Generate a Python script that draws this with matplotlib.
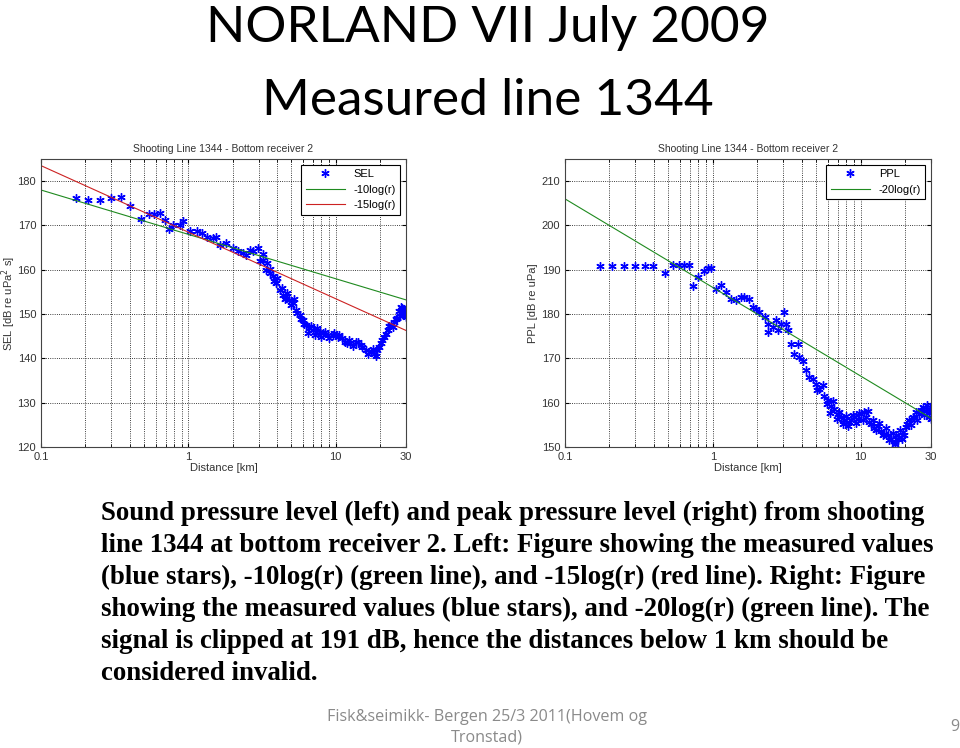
import matplotlib
matplotlib.use('Agg')
import matplotlib.pyplot as plt
from matplotlib.ticker import FixedLocator, NullFormatter, LogLocator

# data
sel_r = [0.174, 0.209, 0.25, 0.30, 0.35, 0.40, 0.48, 0.54, 0.585, 0.64, 0.695, 0.74, 0.79, 0.88, 0.925,
         1.03, 1.14, 1.23, 1.33, 1.47, 1.55, 1.64, 1.81, 2.01, 2.18, 2.35, 2.48, 2.61, 2.75, 2.97,
         3.05, 3.21, 3.38, 3.56, 3.75, 3.95, 4.16, 4.38, 4.6, 4.85, 5.11, 5.39, 5.68, 5.98, 6.3,
         6.64, 7.0, 7.37, 7.77, 8.18, 8.83, 9.54, 10.3, 11.1, 12.0, 12.6, 13.7, 14.8, 16.0, 17.3,
         18.2, 19.2, 20.2, 21.3, 22.5, 23.7, 25.0, 26.2, 26.9, 27.6, 28.3, 29.1,
         3.2, 3.4, 3.6, 3.8, 4.0, 4.3, 4.5, 4.7, 5.0, 5.2, 5.5, 5.8, 6.1, 6.5, 6.8, 7.2, 7.5, 8.0,
         8.5, 9.0, 9.8, 10.6, 11.5, 12.3, 13.2, 14.2, 15.2, 16.5, 17.8, 18.7, 19.7, 20.7, 21.8,
         23.0, 24.3, 25.6, 27.2, 28.0, 28.7, 29.5, 29.8]
sel_db = [176.2, 175.8, 175.8, 176.2, 176.5, 174.3, 171.5, 172.5, 172.5, 172.8, 171.2, 169.2, 170.2, 170.2, 171.0,
          168.7, 168.7, 168.3, 167.5, 167.2, 167.5, 165.7, 166.0, 164.9, 164.2, 163.8, 163.4, 164.5, 164.2, 165.0,
          161.9, 162.3, 160.0, 159.2, 158.5, 157.0, 155.5, 154.3, 154.0, 153.2, 152.5, 151.0, 149.8, 148.7, 147.5,
          146.8, 146.4, 146.0, 146.0, 145.7, 145.3, 145.3, 144.9, 144.5, 143.4, 143.4, 143.8, 143.0, 141.9, 141.5,
          141.1, 141.9, 143.4, 144.9, 146.4, 147.5, 148.3, 149.1, 150.6, 151.7, 150.6, 149.8,
          163.5, 161.5, 160.2, 157.5, 158.2, 155.8, 153.3, 154.8, 152.0, 153.5, 150.2, 148.8, 147.8, 145.8, 147.2,
          145.3, 146.8, 144.8, 146.0, 144.5, 145.8, 145.2, 143.8, 144.2, 142.8, 143.6, 142.5, 140.9, 142.2, 140.6,
          142.5, 144.2, 145.6, 147.2, 147.0, 148.9, 149.5, 151.4, 150.2, 150.8, 149.4]

ppl_r = [0.172, 0.208, 0.25, 0.296, 0.348, 0.397, 0.478, 0.536, 0.589, 0.636, 0.695, 0.74, 0.79, 0.878, 0.925,
         0.974, 1.05, 1.14, 1.23, 1.33, 1.44, 1.56, 1.64, 1.77, 1.87, 1.97, 2.07, 2.24, 2.36, 2.36,
         2.55, 2.68, 2.75, 2.90, 3.02, 3.14, 3.22, 3.39, 3.57, 3.76, 3.86, 4.06, 4.28, 4.51, 4.75,
         5.0, 5.27, 5.55, 5.7, 6.0, 6.32, 6.66, 7.02, 7.39, 7.78, 8.2, 8.64, 9.1, 9.6, 10.1,
         10.6, 11.2, 11.8, 12.4, 13.1, 13.8, 14.5, 15.3, 16.1, 17.0, 17.4, 18.3, 19.3, 20.3, 21.4,
         22.6, 23.8, 25.0, 26.4, 27.8, 29.0, 29.6,
         5.1, 5.9, 6.2, 6.5, 6.9, 7.2, 7.6, 8.0, 8.4, 8.9, 9.3, 9.8, 10.4, 10.9, 11.5, 12.1, 12.8,
         13.4, 14.1, 14.8, 15.6, 16.5, 17.2, 17.8, 18.6, 19.0, 19.8, 20.8, 21.9, 23.1, 24.3, 25.6,
         27.0, 28.4, 29.3, 29.8]
ppl_db = [190.8, 190.8, 190.8, 190.8, 190.8, 190.8, 189.2, 191.0, 191.0, 191.0, 191.0, 186.3, 188.3, 189.7, 190.4,
          190.4, 185.7, 186.5, 185.0, 183.4, 183.1, 183.8, 183.8, 183.4, 181.6, 181.2, 180.4, 179.3, 177.8, 175.9,
          177.1, 178.6, 176.3, 177.8, 180.4, 177.8, 176.3, 173.3, 171.0, 173.3, 170.3, 169.5, 167.3, 165.8, 165.4,
          164.2, 163.1, 163.9, 161.6, 160.5, 159.3, 158.6, 157.5, 156.7, 156.0, 154.8, 156.0, 156.7, 156.3, 157.5,
          157.8, 158.2, 155.2, 154.4, 154.8, 153.7, 153.0, 152.6, 151.9, 151.1, 152.6, 152.3, 153.4, 154.5, 156.0,
          156.7, 157.8, 157.5, 159.0, 158.2, 156.7, 158.6,
          162.8, 159.8, 157.6, 160.3, 156.3, 157.9, 155.2, 157.0, 155.6, 157.2, 155.4, 157.6, 156.2, 156.8, 155.6,
          156.2, 153.8, 155.4, 152.6, 154.2, 151.6, 153.2, 150.6, 151.8, 153.8, 151.8, 152.6, 155.2, 155.0, 156.6,
          156.2, 158.4, 157.2, 159.4, 157.6, 156.4]

# reference lines (end points)
line_r = [0.1, 30]
sel_10log = [178.0, 153.2]
sel_15log = [183.5, 146.3]
ppl_20log = [206.0, 156.5]

x_ticks = [0.1, 1, 10, 30]
x_labels = ['0.1', '1', '10', '30']

plt.rcParams['font.family'] = ['Liberation Sans', 'DejaVu Sans']

fig = plt.figure(figsize=(9.6, 7.48), dpi=100)
fig.patch.set_facecolor('white')

W, H = 960.0, 748.0
star = (6, 2, 0)


def setup(ax, ylim, yticks, ylabel):
    ax.set_xscale('log')
    ax.set_xlim(0.1, 30)
    ax.set_ylim(*ylim)
    ax.xaxis.set_major_locator(FixedLocator(x_ticks))
    ax.set_xticklabels(x_labels)
    ax.xaxis.set_minor_locator(LogLocator(base=10, subs=range(2, 10)))
    ax.xaxis.set_minor_formatter(NullFormatter())
    ax.set_yticks(yticks)
    ax.grid(True, which='both', axis='x', linestyle=':', color='k', linewidth=0.6)
    ax.grid(True, which='major', axis='y', linestyle=':', color='k', linewidth=0.6)
    ax.tick_params(which='both', direction='in', top=True, right=True, labelsize=8, length=3,
                   labelcolor='#333333')
    ax.tick_params(which='minor', length=2)
    ax.set_xlabel('Distance [km]', fontsize=8, labelpad=1, color='#333333')
    ax.set_ylabel(ylabel, fontsize=8, color='#333333', va='center')
    ax.yaxis.set_label_coords(-0.088, 0.5)
    ax.set_title('Shooting Line 1344 - Bottom receiver 2', fontsize=7.5, pad=5, color='#333333')
    for s in ax.spines.values():
        s.set_linewidth(0.8)
        s.set_color('#444444')


ax1 = fig.add_axes([41 / W, 1 - 447 / H, 365 / W, 288 / H])
setup(ax1, (120, 185), [120, 130, 140, 150, 160, 170, 180], 'SEL [dB re uPa$^2$ s]')
ax1.plot(sel_r, sel_db, linestyle='none', marker=star, color='#0000ff', markersize=6, markeredgewidth=1, label='SEL')
ax1.plot(line_r, sel_10log, color='#1f8a1f', linewidth=0.8, label='-10log(r)')
ax1.plot(line_r, sel_15log, color='#cc2222', linewidth=0.8, label='-15log(r)')
leg = ax1.legend(loc='upper right', fontsize=8, fancybox=False, edgecolor='k', framealpha=1,
                 borderaxespad=0.5, handlelength=3.5)
leg.get_frame().set_linewidth(0.8)

ax2 = fig.add_axes([565 / W, 1 - 447 / H, 366 / W, 288 / H])
setup(ax2, (150, 215), [150, 160, 170, 180, 190, 200, 210], 'PPL [dB re uPa]')
ax2.plot(ppl_r, ppl_db, linestyle='none', marker=star, color='#0000ff', markersize=6, markeredgewidth=1, label='PPL')
ax2.plot(line_r, ppl_20log, color='#1f8a1f', linewidth=0.8, label='-20log(r)')
leg = ax2.legend(loc='upper right', fontsize=8, fancybox=False, edgecolor='k', framealpha=1,
                 borderaxespad=0.5, handlelength=3.5)
leg.get_frame().set_linewidth(0.8)

# slide title
fig.text(488 / W, 1 - 42 / H, 'NORLAND VII July 2009', ha='center', va='baseline', fontsize=37,
         family=['Lato', 'DejaVu Sans'])
fig.text(488 / W, 1 - 115 / H, 'Measured line 1344', ha='center', va='baseline', fontsize=37,
         family=['Lato', 'DejaVu Sans'])

caption = ['Sound pressure level (left) and peak pressure level (right) from shooting',
           'line 1344 at bottom receiver 2. Left: Figure showing the measured values',
           '(blue stars), -10log(r) (green line), and -15log(r) (red line). Right: Figure',
           'showing the measured values (blue stars), and -20log(r) (green line). The',
           'signal is clipped at 191 dB, hence the distances below 1 km should be',
           'considered invalid.']
for i, line in enumerate(caption):
    fig.text(101 / W, 1 - (520 + i * 32) / H, line, ha='left', va='baseline', fontsize=19.4,
             fontweight='bold', family=['Liberation Serif', 'DejaVu Serif'])

fig.text(487 / W, 1 - 717 / H, 'Fisk&seimikk- Bergen 25/3 2011(Hovem og', ha='center', va='center',
         fontsize=11.6, color='#8a8a8a', family=['Open Sans', 'DejaVu Sans'])
fig.text(487 / W, 1 - 738 / H, 'Tronstad)', ha='center', va='center',
         fontsize=11.6, color='#8a8a8a', family=['Open Sans', 'DejaVu Sans'])
fig.text(955 / W, 1 - 727 / H, '9', ha='center', va='center',
         fontsize=11.6, color='#8a8a8a', family=['Open Sans', 'DejaVu Sans'])

fig.savefig('out.png', dpi=100, facecolor='white')
